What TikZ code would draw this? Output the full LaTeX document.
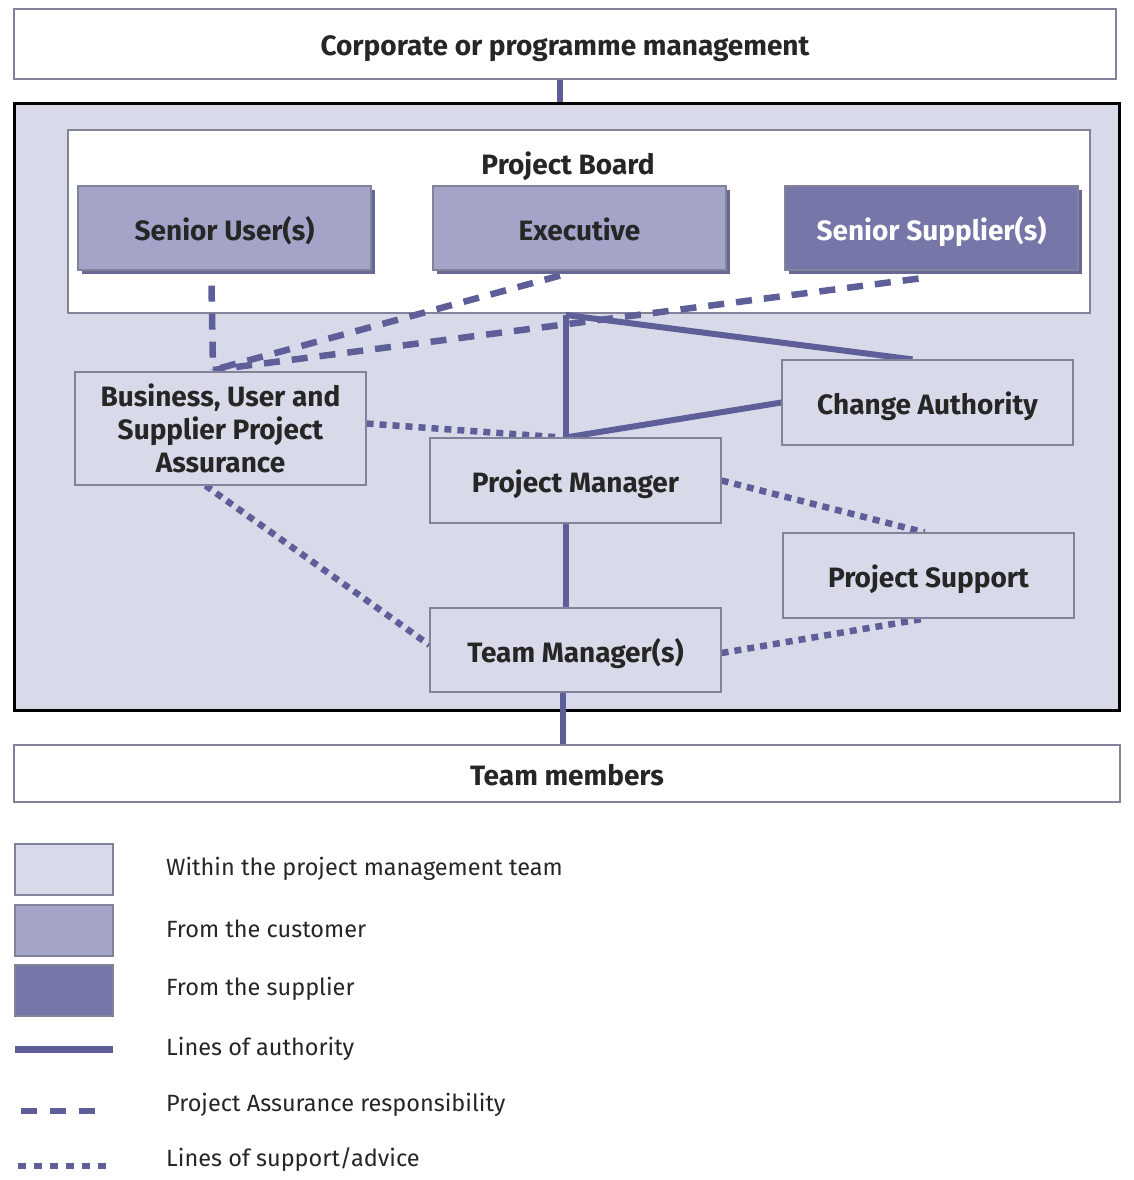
\documentclass[tikz,border=0pt]{standalone}
\usepackage{fontspec}
\setmainfont{Fira Sans}
\usetikzlibrary{shadows,calc}
\definecolor{bglav}{RGB}{217,218,233}
\definecolor{custc}{RGB}{163,164,200}
\definecolor{suppc}{RGB}{118,118,168}
\definecolor{linec}{RGB}{94,95,153}
\definecolor{shadc}{RGB}{104,104,150}
\definecolor{bordc}{RGB}{130,130,155}
\pgfdeclarelayer{back}
\pgfdeclarelayer{background}
\pgfsetlayers{back,background,main}
\tikzset{
  lbl/.style={font=\fontsize{28}{33}\selectfont\bfseries},
  one/.style={text height=24pt, text depth=0pt},
  wbox/.style={draw=bordc, line width=1.2pt, fill=bglav, inner sep=0pt, lbl, text=black!85, align=center},
  plain/.style={draw=bordc, line width=1.2pt, fill=white, inner sep=0pt, lbl, one, text=black!85},
  boardbox/.style={draw=bordc, line width=1.2pt, fill=#1, inner sep=0pt, lbl, one,
     minimum width=293pt, minimum height=84pt,
     drop shadow={shadow xshift=4pt, shadow yshift=-4pt, fill=shadc, opacity=1}},
  auth/.style={draw=linec, line width=6pt},
  assure/.style={draw=linec, line width=6.5pt, dash pattern=on 16pt off 12pt},
  support/.style={draw=linec, line width=6.5pt, dash pattern=on 7pt off 6pt},
  legtext/.style={anchor=west, font=\fontsize{23.5}{28}\selectfont, text=black!85, inner sep=0pt},
  legbox/.style={draw=bordc, line width=1.2pt, fill=#1, minimum width=98pt, minimum height=51pt, inner sep=0pt}
}
\begin{document}
\begin{tikzpicture}[x=1pt,y=-1pt]
\useasboundingbox (0,0) rectangle (1134,1180);
\begin{pgfonlayer}{back}
\fill[white] (0,0) rectangle (1134,1180);
\end{pgfonlayer}

% containers
\node[plain, minimum width=1102pt, minimum height=70pt] (corp) at (565,44) {Corporate or programme management};
\begin{pgfonlayer}{back}
\node[draw=black, line width=3pt, fill=bglav, minimum width=1105pt, minimum height=606pt, inner sep=0pt] (outer) at (566.5,407) {};
\node[draw=bordc, line width=1.2pt, fill=white, minimum width=1022pt, minimum height=183pt, inner sep=0pt] (board) at (579,221.5) {};
\end{pgfonlayer}
\node[lbl, one, text=black!85, inner sep=0pt] (boardt) at (568,162) {Project Board};

% board members
\node[boardbox=custc, text=black!85] (su) at (224.5,228) {Senior User(s)};
\node[boardbox=custc, text=black!85] (ex) at (579.5,228) {Executive};
\node[boardbox=suppc, text=white] (ss) at (931.5,228) {Senior Supplier(s)};

% team boxes
\node[wbox, minimum width=291pt, minimum height=113pt] (bus) at (220.5,428.5) {Business, User and\\Supplier Project\\Assurance};
\node[wbox, one, minimum width=291pt, minimum height=85pt] (pm) at (575.5,480.5) {Project Manager};
\node[wbox, one, minimum width=291pt, minimum height=85pt] (ca) at (927.5,402.5) {Change Authority};
\node[wbox, one, minimum width=291pt, minimum height=85pt] (ps) at (928.5,575.5) {Project Support};
\node[wbox, one, minimum width=291pt, minimum height=84pt] (tm) at (575.5,650) {Team Manager(s)};
\node[plain, minimum width=1106pt, minimum height=57pt] (team) at (567,773.5) {Team members};

\coordinate (j1) at (566,315);
\coordinate (bt) at (213,370);

\begin{pgfonlayer}{back}
  \draw[auth] ([xshift=-5pt]corp.south) -- ([xshift=-6.5pt]outer.north);
\end{pgfonlayer}

\begin{pgfonlayer}{background}
  % authority
  \draw[auth] (j1) -- (pm.north -| j1);
  \draw[auth] (j1) -- ([xshift=-15pt]ca.north);
  \draw[auth] (pm.north -| j1) -- (ca.west);
  \draw[auth] (pm.south -| j1) -- (tm.north -| j1);
  \draw[auth] ([xshift=-13pt]tm.south) -- ([xshift=-13pt]tm.south |- team.north);
  % assurance
  \draw[assure] ([xshift=-13pt,yshift=-15pt]su.south) -- (bt);
  \draw[assure] ([xshift=-19.5pt,yshift=-5pt]ex.south) -- (bt);
  \draw[assure] ([xshift=-13pt,yshift=-8pt]ss.south) -- (bt);
  % support
  \draw[support] ([yshift=5pt]bus.east) -- ([xshift=-15pt]pm.north);
  \draw[support] ([xshift=-15pt]bus.south) -- ([yshift=5pt]tm.west);
  \draw[support] (pm.east) -- ([xshift=-4pt]ps.north);
  \draw[support] ([yshift=-3pt]tm.east) -- ([xshift=-4pt]ps.south);
\end{pgfonlayer}

% legend
\node[legbox=bglav] (l1) at (64,869.5) {};
\node[legbox=custc] (l2) at (64,930.5) {};
\node[legbox=suppc] (l3) at (64,990.5) {};
\coordinate (l4a) at (15,1049);
\coordinate (l4b) at (113,1049);
\coordinate (l5a) at (21,1111);
\coordinate (l5b) at (105,1111);
\coordinate (l6a) at (18,1166);
\coordinate (l6b) at (108,1166);
\draw[auth, line width=7pt] (l4a) -- (l4b);
\draw[assure, dash pattern=on 16pt off 13pt] (l5a) -- (l5b);
\draw[support, dash pattern=on 8pt off 8pt] (l6a) -- (l6b);

\node[legtext] (t1) at (166,869) {Within the project management team};
\node[legtext] (t2) at (166,929) {From the customer};
\node[legtext] (t3) at (166,989) {From the supplier};
\node[legtext] (t4) at (166,1049) {Lines of authority};
\node[legtext] (t5) at (166,1105) {Project Assurance responsibility};
\node[legtext] (t6) at (166,1160) {Lines of support/advice};
\end{tikzpicture}
\end{document}
